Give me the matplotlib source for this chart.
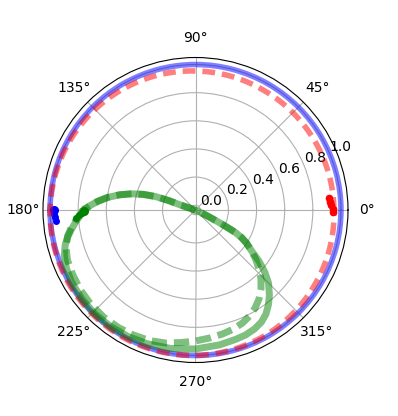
import numpy as np
import matplotlib
matplotlib.use("Agg")
import matplotlib.pyplot as plt

# ---- data (theta in degrees, radius) ----
blue_theta = [180, 210, 240, 270, 300, 330, 360, 390, 420, 450, 480, 510, 540]
blue_r = [1.0, 1.0, 1.0, 1.0, 1.0, 1.0, 1.0, 1.0, 1.0, 1.0, 1.0, 1.0, 1.0]
blue_mark_theta = [180, 181.5, 183, 184.5]
blue_mark_r = [0.975, 0.970, 0.966, 0.961]

red_theta = [0, 30, 60, 90, 120, 150, 180, 210, 240, 270, 300, 330, 360]
red_r = [0.950, 0.945, 0.945, 0.954, 0.968, 0.985, 1.000, 1.008, 1.008, 1.000, 0.985, 0.965, 0.950]
red_mark_theta = [-1, 0.5, 2, 3.5, 5]
red_mark_r = [0.945, 0.940, 0.933, 0.926, 0.918]

green_theta = [180, 183, 186, 189, 192, 195, 199, 204, 210, 218, 226, 234, 242, 250,
               260, 270, 280.1, 287.2, 291.8, 296.4, 300.5, 304.1, 307.5, 311, 315,
               318, 321, 324.2, 327.1, 329.1, 330.6, 331.3, 332.1, 333.3, 334,
               162, 161.5, 160.6, 161.4, 163.3, 165.8, 168.7, 171.9, 175, 177.8, 180]
green_r = [0.76, 0.79, 0.825, 0.86, 0.895, 0.925, 0.952, 0.972, 0.985, 0.992, 0.994,
           0.991, 0.985, 0.977, 0.966, 0.954, 0.940, 0.929, 0.923, 0.910, 0.890,
           0.859, 0.817, 0.767, 0.70, 0.63, 0.55, 0.452, 0.397, 0.347, 0.292,
           0.225, 0.163, 0.065, 0.0,
           0.0, 0.082, 0.169, 0.266, 0.352, 0.435, 0.517, 0.598, 0.665, 0.720, 0.76]

green2_theta = [180, 184.3, 187.8, 191.5, 195.9, 201.3, 207.5, 214.8, 221.8, 229.3,
                236.8, 243.6, 250.6, 257.3, 264, 270, 276.5, 282.3, 287.7, 292.6,
                297, 301.3, 305.5, 309.7, 313.5, 317.1, 320.8, 324.2, 327.1, 329.1,
                330.6, 331.3, 332.1, 333.3, 334,
                162, 161.5, 160.6, 161.4, 163.3, 165.8, 168.7, 171.9, 175, 177.8, 180]
green2_r = [0.76, 0.814, 0.856, 0.894, 0.923, 0.943, 0.952, 0.962, 0.967, 0.969,
            0.965, 0.958, 0.950, 0.935, 0.913, 0.897, 0.881, 0.868, 0.854, 0.836,
            0.812, 0.781, 0.743, 0.695, 0.642, 0.582, 0.517, 0.452, 0.397, 0.347,
            0.292, 0.225, 0.163, 0.065, 0.0,
            0.0, 0.082, 0.169, 0.266, 0.352, 0.435, 0.517, 0.598, 0.665, 0.720, 0.76]
green_mark_theta = [180.5, 181.5, 182.7, 183.8]
green_mark_r = [0.76, 0.775, 0.795, 0.817]

r_limits = (-0.034, 1.05)
r_ticks = [0.0, 0.2, 0.4, 0.6, 0.8, 1.0]

# ---- figure ----
W, H = 398, 416
fig = plt.figure(figsize=(W / 100, H / 100), dpi=100)
cx, cy, rad = 195.5, 210.0, 152.5
ax = fig.add_axes([(cx - rad) / W, (H - cy - rad) / H, 2 * rad / W, 2 * rad / H],
                  projection='polar')


def smooth(line, n=60):
    line.get_path()._interpolation_steps = n


d = np.deg2rad
l, = ax.plot(d(blue_theta), blue_r, color='b', lw=4, alpha=0.5)
smooth(l)
ax.plot(d(blue_mark_theta[:1]), blue_mark_r[:1], 'o', color='b', ms=5.5)
ax.plot(d(blue_mark_theta[1:]), blue_mark_r[1:], 'o', color='b', ms=4)

l, = ax.plot(d(red_theta), red_r, color='r', lw=4, alpha=0.5,
             linestyle=(0, (2.3, 1.25)))
smooth(l)
ax.plot(d(red_mark_theta), red_mark_r, 'o', color='r', ms=4.5)

ax.plot(d(green_theta), green_r, color='g', lw=5, alpha=0.5)
ax.plot(d(green2_theta), green2_r, color='g', lw=5, alpha=0.5,
        linestyle=(0, (2.2, 1.0)))
ax.plot(d(green_mark_theta[:1]), green_mark_r[:1], 'o', color='g', ms=5.5)
ax.plot(d(green_mark_theta[1:]), green_mark_r[1:], 'o', color='g', ms=4)

ax.set_ylim(*r_limits)
ax.set_yticks(r_ticks)

fig.savefig("out.png", dpi=100)
